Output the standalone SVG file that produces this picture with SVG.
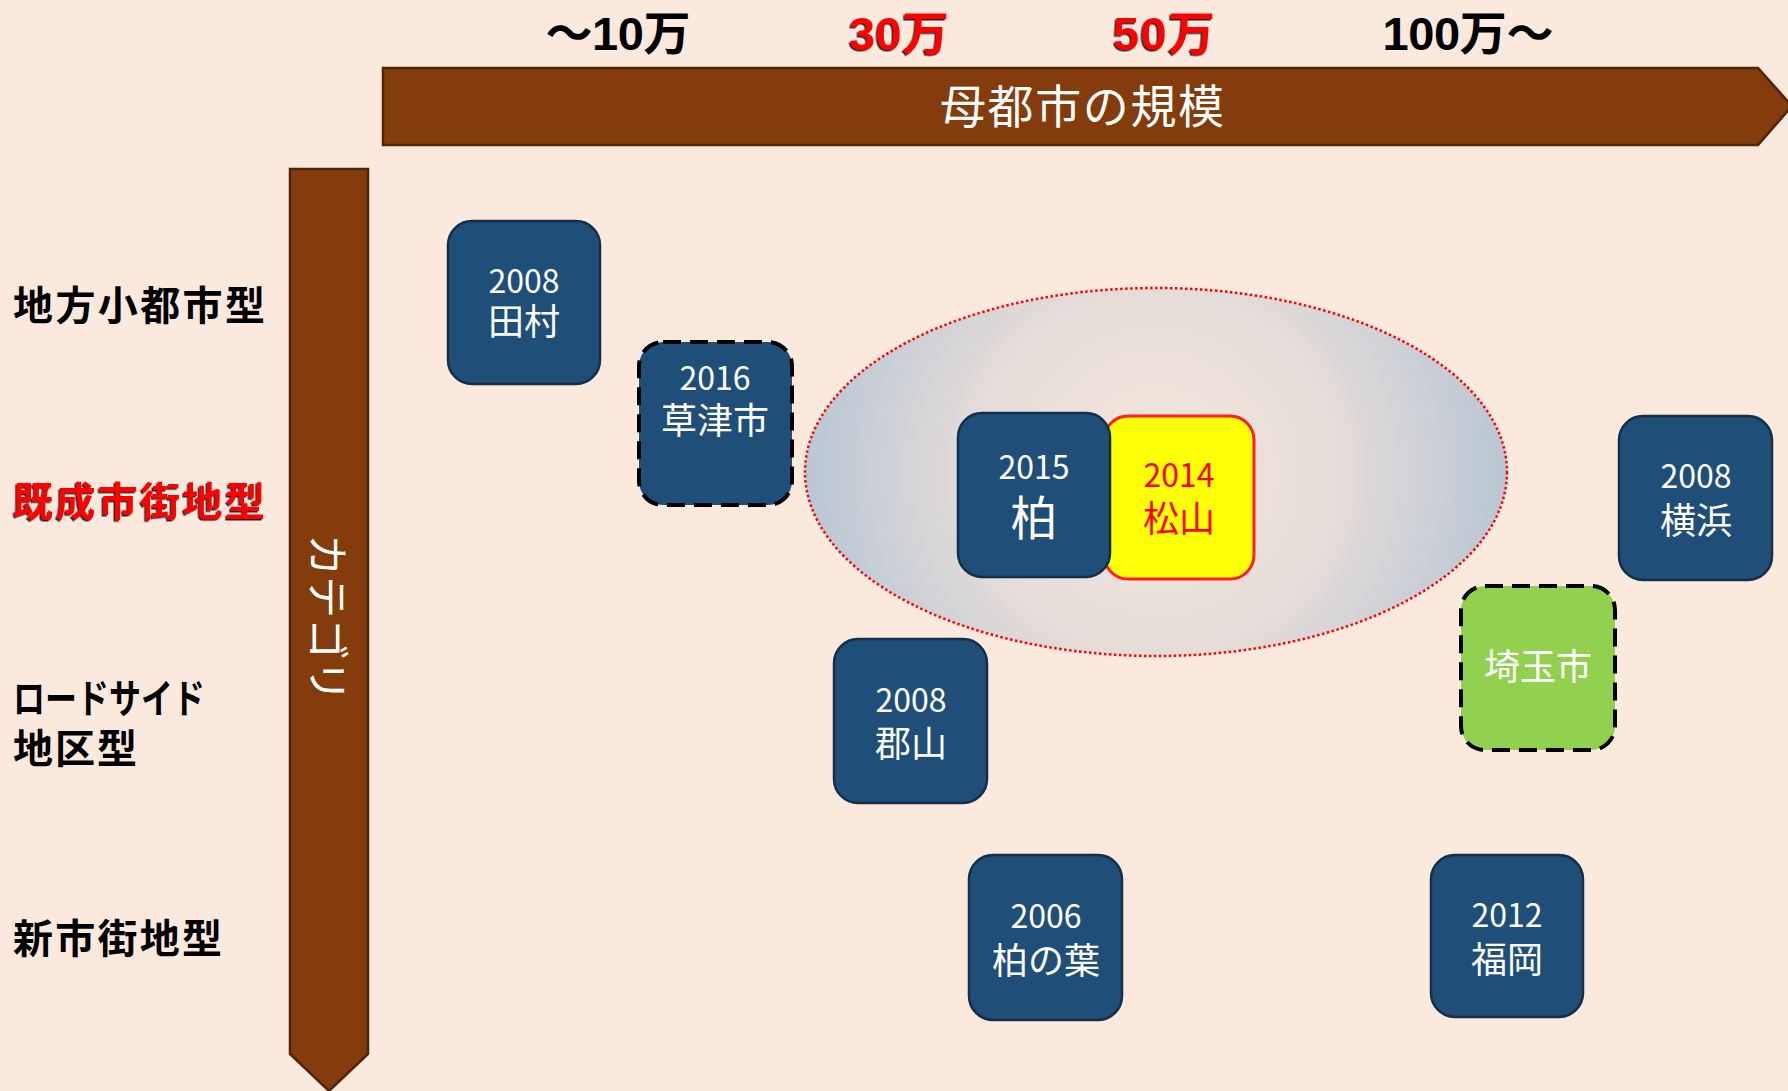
<svg xmlns="http://www.w3.org/2000/svg" width="1788" height="1091" viewBox="0 0 1788 1091">
  <defs>
    <radialGradient id="zoneFill" gradientUnits="userSpaceOnUse" cx="1156" cy="472" r="355">
      <stop offset="0" stop-color="#f4e6dc"/>
      <stop offset="0.5" stop-color="#e6ddd9"/>
      <stop offset="1" stop-color="#b8c6d4"/>
    </radialGradient>
    <filter id="redShadow" x="-10%" y="-20%" width="120%" height="140%">
      <feDropShadow dx="-1.5" dy="1.5" stdDeviation="0.4" flood-color="#000" flood-opacity="0.85"/>
    </filter>
  </defs>
  <style>
    .bg { fill: #fce9de; }
    .band { fill: #843c0c; stroke: #4f2408; stroke-width: 2.5; }
    .scale { font-family: "Liberation Sans", "Noto Sans CJK JP", sans-serif; font-size: 47px; font-weight: 700; text-anchor: middle; }
    .cat { font-family: "Noto Sans CJK JP", "Noto Sans", sans-serif; font-size: 40px; font-weight: 700; fill: #000; }
    .red { fill: #ff0000; filter: url(#redShadow); }
    .bandText { font-family: "Noto Sans CJK JP", "Noto Sans", sans-serif; font-size: 46px; font-weight: 400; fill: #fff; text-anchor: middle; }
    .box { fill: #1f4e79; stroke: #132f4a; stroke-width: 2.5; }
    .dash { stroke: #000; stroke-width: 4; stroke-dasharray: 18 9; }
    .green { fill: #92d050; }
    .yellow { fill: #ffff0a; stroke: #ff2020; stroke-width: 3; }
    .label { font-family: "Noto Sans CJK JP", "Noto Sans", sans-serif; fill: #fff; text-anchor: middle; }
    .num { font-size: 32px; }
    .name { font-size: 36px; }
    .hot { fill: #ff0000; }
  </style>

  <rect class="bg" x="0" y="0" width="1788" height="1091"/>

  <!-- population scale labels -->
  <g id="scale-labels">
    <text class="scale" x="618" y="50" textLength="145">〜10万</text>
    <text class="scale red" x="899" y="50" textLength="100">30万</text>
    <text class="scale red" x="1164" y="50" textLength="102">50万</text>
    <text class="scale" x="1468" y="50" textLength="171">100万〜</text>
  </g>

  <!-- horizontal axis arrow -->
  <g id="axis-size">
    <polygon class="band" points="383,68 1758,68 1792,106 1758,145 383,145"/>
    <text class="bandText" x="1082" y="123" textLength="284">母都市の規模</text>
  </g>

  <!-- vertical axis arrow -->
  <g id="axis-category">
    <polygon class="band" points="290,169 368,169 368,1054 329,1091 290,1054"/>
    <text class="bandText" transform="translate(330,618) rotate(90)" dominant-baseline="central" style="font-size:42px">カテゴリ</text>
  </g>

  <!-- category row labels -->
  <g id="row-labels">
    <text class="cat" x="13" y="320" textLength="252">地方小都市型</text>
    <text class="cat red" x="13" y="516" textLength="252">既成市街地型</text>
    <text class="cat"><tspan x="13" y="713" textLength="192" lengthAdjust="spacingAndGlyphs">ロードサイド</tspan><tspan x="13" y="763" textLength="124">地区型</tspan></text>
    <text class="cat" x="13" y="953" textLength="209">新市街地型</text>
  </g>

  <!-- highlighted zone -->
  <g id="zone">
    <ellipse cx="1156" cy="472" rx="351" ry="184" fill="url(#zoneFill)" stroke="#ff0000" stroke-width="2.5" stroke-dasharray="2.5 2.5"/>
  </g>

  <g id="node-tamura">
    <rect class="box" x="448" y="221" width="152" height="163" rx="24"/>
    <text class="label"><tspan class="num" x="524" y="293">2008</tspan><tspan class="name" x="524" y="335">田村</tspan></text>
  </g>

  <g id="node-kusatsu">
    <rect class="box dash" x="639" y="342" width="153" height="163" rx="24"/>
    <text class="label"><tspan class="num" x="715" y="390">2016</tspan><tspan class="name" x="715" y="434">草津市</tspan></text>
  </g>

  <g id="node-matsuyama">
    <rect class="yellow" x="1104" y="416" width="150" height="163" rx="24"/>
    <text class="label hot"><tspan class="num" x="1179" y="487">2014</tspan><tspan class="name" x="1179" y="532">松山</tspan></text>
  </g>

  <g id="node-kashiwa">
    <rect class="box" x="958" y="413" width="152" height="164" rx="24"/>
    <text class="label"><tspan class="num" x="1034" y="479">2015</tspan><tspan x="1034" y="535" style="font-size:47px">柏</tspan></text>
  </g>

  <g id="node-yokohama">
    <rect class="box" x="1619" y="416" width="153" height="164" rx="24"/>
    <text class="label"><tspan class="num" x="1696" y="488">2008</tspan><tspan class="name" x="1696" y="534">横浜</tspan></text>
  </g>

  <g id="node-saitama">
    <rect class="green dash" x="1461" y="586" width="154" height="164" rx="24"/>
    <text class="label name" x="1538" y="680">埼玉市</text>
  </g>

  <g id="node-koriyama">
    <rect class="box" x="834" y="639" width="153" height="164" rx="24"/>
    <text class="label"><tspan class="num" x="911" y="712">2008</tspan><tspan class="name" x="911" y="757">郡山</tspan></text>
  </g>

  <g id="node-kashiwanoha">
    <rect class="box" x="969" y="855" width="153" height="165" rx="24"/>
    <text class="label"><tspan class="num" x="1046" y="928">2006</tspan><tspan class="name" x="1046" y="974">柏の葉</tspan></text>
  </g>

  <g id="node-fukuoka">
    <rect class="box" x="1431" y="855" width="152" height="162" rx="24"/>
    <text class="label"><tspan class="num" x="1507" y="927">2012</tspan><tspan class="name" x="1507" y="973">福岡</tspan></text>
  </g>

  <g id="connectors"/>
</svg>
